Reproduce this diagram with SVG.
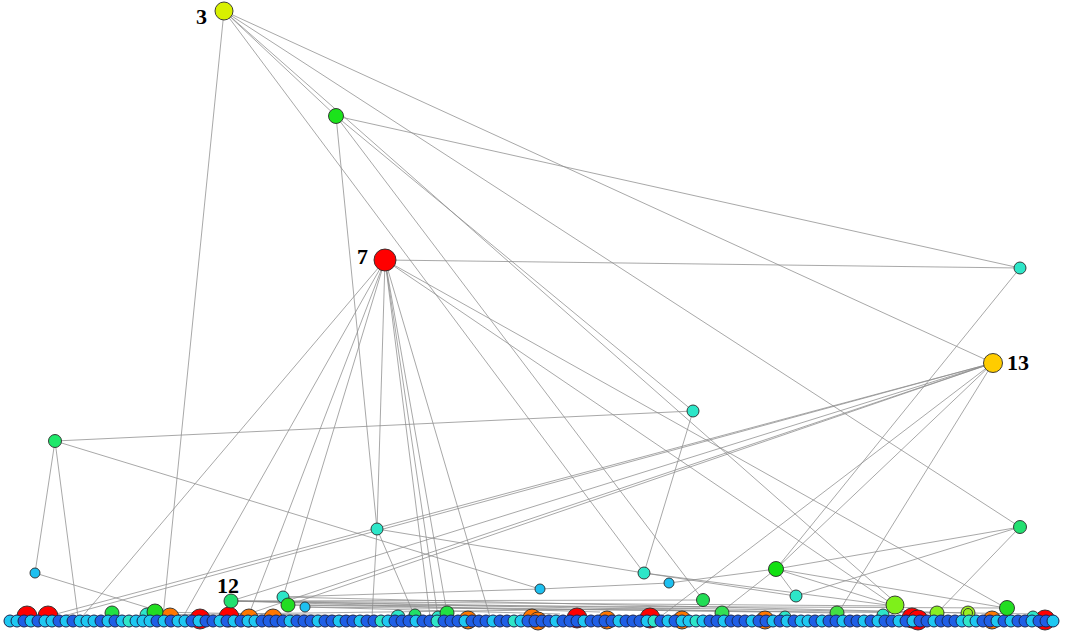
<svg xmlns="http://www.w3.org/2000/svg" width="1069" height="637" viewBox="0 0 1069 637">
<style>
.e{stroke:#8c8c8c;stroke-width:0.9;fill:none;stroke-opacity:0.85}
.n{stroke:#2a2a2a;stroke-width:0.9}
.r{stroke:#1a2550;stroke-width:1}
.b{fill:#1f5fe6}.c{fill:#1ec8f2}.a{fill:#2ee6c8}
.lbl{font-family:"Liberation Serif",serif;font-weight:bold;font-size:22px;fill:#000}
</style>
<rect width="1069" height="637" fill="#fff"/>
<g id="connectors">
<path class="e" d="M224,11L163,617M224,11L644,573M224,11L993,363M224,11L1020,527M224,11L912,617M224,11L336,116"/>
<path class="e" d="M336,116L1020,268M336,116L377,529M336,116L693,411M336,116L703,600"/>
<path class="e" d="M385,260L1020,268M385,260L82,617M385,260L183,617M385,260L248,617M385,260L283,597M385,260L377,529M385,260L430,617M385,260L438,617M385,260L447,613M385,260L490,617M385,260L1006,608M385,260L895,606"/>
<path class="e" d="M993,363L45,617M993,363L60,617M993,363L231,601M993,363L248,614M993,363L288,605M993,363L776,569M993,363L838,613M993,363L660,617"/>
<path class="e" d="M1020,268L776,569M1020,527L776,569M1020,527L796,596M1020,527L937,613"/>
<path class="e" d="M55,441L693,411M55,441L540,589M55,441L35,573M55,441L78,617M35,573L165,613"/>
<path class="e" d="M377,529L644,573M377,529L415,617M377,529L372,617M693,411L644,573M644,573L796,596M644,573L895,606"/>
<path class="e" d="M669,583L540,589M669,583L776,569M776,569L796,596M776,569L895,606M776,569L1006,608M776,569L720,613"/>
<path class="e" d="M231,601L703,600M231,601L895,606M231,601L838,613M288,605L1006,608M305,607L937,613M155,612L468,618M283,597L540,589"/>
<path class="e" d="M231,601L600,612M288,605L760,612M283,597L968,613M231,601L1033,614M147,615L700,608M305,607L560,614"/>
</g>
<g id="bighubs-row">
<circle class="n" cx="27" cy="616" r="10" fill="#ff0000"/>
<circle class="n" cx="48" cy="616" r="10" fill="#ff0000"/>
<circle class="n" cx="170" cy="617" r="9" fill="#ff7700"/>
<circle class="n" cx="200" cy="619" r="10" fill="#ff0000"/>
<circle class="n" cx="229" cy="617" r="10" fill="#ff0000"/>
<circle class="n" cx="249" cy="618" r="9" fill="#ff7700"/>
<circle class="n" cx="273" cy="618" r="9" fill="#ff7700"/>
<circle class="n" cx="468" cy="620" r="9" fill="#ff7700"/>
<circle class="n" cx="532" cy="618" r="9" fill="#ff7700"/>
<circle class="n" cx="538" cy="621" r="9" fill="#ff7700"/>
<circle class="n" cx="577" cy="618" r="10" fill="#ff0000"/>
<circle class="n" cx="607" cy="620" r="9" fill="#ff7700"/>
<circle class="n" cx="650" cy="618" r="10" fill="#ff0000"/>
<circle class="n" cx="682" cy="620" r="9" fill="#ff7700"/>
<circle class="n" cx="765" cy="620" r="9" fill="#ff7700"/>
<circle class="n" cx="912" cy="618" r="10" fill="#ff0000"/>
<circle class="n" cx="918" cy="620" r="10" fill="#ff0000"/>
<circle class="n" cx="992" cy="620" r="9" fill="#ff7700"/>
<circle class="n" cx="1045" cy="620" r="10" fill="#ff0000"/>
<circle class="n" cx="112" cy="613" r="7" fill="#22e044"/>
<circle class="n" cx="147" cy="615" r="7" fill="#2ee6c8"/>
<circle class="n" cx="155" cy="612" r="8" fill="#22dd22"/>
<circle class="n" cx="398" cy="617" r="7" fill="#2ee6c8"/>
<circle class="n" cx="415" cy="615" r="6" fill="#22e066"/>
<circle class="n" cx="438" cy="617" r="6" fill="#2ee6c8"/>
<circle class="n" cx="447" cy="613" r="7" fill="#22e044"/>
<circle class="n" cx="722" cy="613" r="7" fill="#33e055"/>
<circle class="n" cx="785" cy="617" r="6" fill="#2ee6c8"/>
<circle class="n" cx="837" cy="613" r="7" fill="#44e044"/>
<circle class="n" cx="883" cy="615" r="6" fill="#2ee6c8"/>
<circle class="n" cx="937" cy="613" r="7" fill="#88ee22"/>
<circle class="n" cx="968" cy="613" r="7" fill="#99ee22"/>
<circle class="n" cx="968" cy="613" r="4.5" fill="none"/>
<circle class="n" cx="1033" cy="617" r="6" fill="#2ee6c8"/>
</g>
<g id="row">
<circle class="r c" cx="10" cy="621" r="6"/><circle class="r c" cx="17" cy="621" r="6"/><circle class="r b" cx="24" cy="621" r="6"/><circle class="r c" cx="31" cy="621" r="6"/><circle class="r b" cx="38" cy="621" r="6"/><circle class="r c" cx="45" cy="621" r="6"/><circle class="r c" cx="52" cy="621" r="6"/><circle class="r b" cx="59" cy="621" r="6"/><circle class="r c" cx="66" cy="621" r="6"/><circle class="r b" cx="73" cy="621" r="6"/>
<circle class="r c" cx="80" cy="621" r="6"/><circle class="r c" cx="87" cy="621" r="6"/><circle class="r c" cx="94" cy="621" r="6"/><circle class="r b" cx="101" cy="621" r="6"/><circle class="r c" cx="108" cy="621" r="6"/><circle class="r b" cx="115" cy="621" r="6"/><circle class="r c" cx="122" cy="621" r="6"/><circle class="r a" cx="129" cy="621" r="6"/><circle class="r c" cx="136" cy="621" r="6"/><circle class="r c" cx="143" cy="621" r="6"/>
<circle class="r c" cx="150" cy="621" r="6"/><circle class="r b" cx="157" cy="621" r="6"/><circle class="r c" cx="164" cy="621" r="6"/><circle class="r b" cx="171" cy="621" r="6"/><circle class="r c" cx="178" cy="621" r="6"/><circle class="r c" cx="185" cy="621" r="6"/><circle class="r b" cx="192" cy="621" r="6"/><circle class="r c" cx="199" cy="621" r="6"/><circle class="r b" cx="206" cy="621" r="6"/><circle class="r b" cx="213" cy="621" r="6"/>
<circle class="r c" cx="220" cy="621" r="6"/><circle class="r b" cx="227" cy="621" r="6"/><circle class="r c" cx="234" cy="621" r="6"/><circle class="r b" cx="241" cy="621" r="6"/><circle class="r c" cx="248" cy="621" r="6"/><circle class="r c" cx="255" cy="621" r="6"/><circle class="r b" cx="262" cy="621" r="6"/><circle class="r b" cx="269" cy="621" r="6"/><circle class="r b" cx="276" cy="621" r="6"/><circle class="r b" cx="283" cy="621" r="6"/>
<circle class="r c" cx="290" cy="621" r="6"/><circle class="r b" cx="297" cy="621" r="6"/><circle class="r b" cx="304" cy="621" r="6"/><circle class="r b" cx="311" cy="621" r="6"/><circle class="r c" cx="318" cy="621" r="6"/><circle class="r b" cx="325" cy="621" r="6"/><circle class="r b" cx="332" cy="621" r="6"/><circle class="r c" cx="339" cy="621" r="6"/><circle class="r b" cx="346" cy="621" r="6"/><circle class="r b" cx="353" cy="621" r="6"/>
<circle class="r c" cx="360" cy="621" r="6"/><circle class="r b" cx="367" cy="621" r="6"/><circle class="r b" cx="374" cy="621" r="6"/><circle class="r a" cx="381" cy="621" r="6"/><circle class="r c" cx="388" cy="621" r="6"/><circle class="r b" cx="395" cy="621" r="6"/><circle class="r b" cx="402" cy="621" r="6"/><circle class="r b" cx="409" cy="621" r="6"/><circle class="r c" cx="416" cy="621" r="6"/><circle class="r b" cx="423" cy="621" r="6"/>
<circle class="r b" cx="430" cy="621" r="6"/><circle class="r a" cx="437" cy="621" r="6"/><circle class="r b" cx="444" cy="621" r="6"/><circle class="r b" cx="451" cy="621" r="6"/><circle class="r b" cx="458" cy="621" r="6"/><circle class="r c" cx="465" cy="621" r="6"/><circle class="r b" cx="472" cy="621" r="6"/><circle class="r b" cx="479" cy="621" r="6"/><circle class="r b" cx="486" cy="621" r="6"/><circle class="r c" cx="493" cy="621" r="6"/>
<circle class="r b" cx="500" cy="621" r="6"/><circle class="r b" cx="507" cy="621" r="6"/><circle class="r a" cx="514" cy="621" r="6"/><circle class="r c" cx="521" cy="621" r="6"/><circle class="r b" cx="528" cy="621" r="6"/><circle class="r b" cx="535" cy="621" r="6"/><circle class="r b" cx="542" cy="621" r="6"/><circle class="r b" cx="549" cy="621" r="6"/><circle class="r c" cx="556" cy="621" r="6"/><circle class="r b" cx="563" cy="621" r="6"/>
<circle class="r b" cx="570" cy="621" r="6"/><circle class="r b" cx="577" cy="621" r="6"/><circle class="r c" cx="584" cy="621" r="6"/><circle class="r b" cx="591" cy="621" r="6"/><circle class="r b" cx="598" cy="621" r="6"/><circle class="r b" cx="605" cy="621" r="6"/><circle class="r b" cx="612" cy="621" r="6"/><circle class="r c" cx="619" cy="621" r="6"/><circle class="r b" cx="626" cy="621" r="6"/><circle class="r b" cx="633" cy="621" r="6"/>
<circle class="r b" cx="640" cy="621" r="6"/><circle class="r c" cx="647" cy="621" r="6"/><circle class="r a" cx="654" cy="621" r="6"/><circle class="r b" cx="661" cy="621" r="6"/><circle class="r c" cx="668" cy="621" r="6"/><circle class="r b" cx="675" cy="621" r="6"/><circle class="r c" cx="682" cy="621" r="6"/><circle class="r c" cx="689" cy="621" r="6"/><circle class="r a" cx="696" cy="621" r="6"/><circle class="r c" cx="703" cy="621" r="6"/>
<circle class="r b" cx="710" cy="621" r="6"/><circle class="r b" cx="717" cy="621" r="6"/><circle class="r c" cx="724" cy="621" r="6"/><circle class="r b" cx="731" cy="621" r="6"/><circle class="r b" cx="738" cy="621" r="6"/><circle class="r b" cx="745" cy="621" r="6"/><circle class="r c" cx="752" cy="621" r="6"/><circle class="r b" cx="759" cy="621" r="6"/><circle class="r b" cx="766" cy="621" r="6"/><circle class="r c" cx="773" cy="621" r="6"/>
<circle class="r b" cx="780" cy="621" r="6"/><circle class="r c" cx="787" cy="621" r="6"/><circle class="r b" cx="794" cy="621" r="6"/><circle class="r c" cx="801" cy="621" r="6"/><circle class="r c" cx="808" cy="621" r="6"/><circle class="r b" cx="815" cy="621" r="6"/><circle class="r c" cx="822" cy="621" r="6"/><circle class="r b" cx="829" cy="621" r="6"/><circle class="r b" cx="836" cy="621" r="6"/><circle class="r c" cx="843" cy="621" r="6"/>
<circle class="r b" cx="850" cy="621" r="6"/><circle class="r b" cx="857" cy="621" r="6"/><circle class="r c" cx="864" cy="621" r="6"/><circle class="r b" cx="871" cy="621" r="6"/><circle class="r c" cx="878" cy="621" r="6"/><circle class="r b" cx="885" cy="621" r="6"/><circle class="r b" cx="892" cy="621" r="6"/><circle class="r c" cx="899" cy="621" r="6"/><circle class="r b" cx="906" cy="621" r="6"/><circle class="r c" cx="913" cy="621" r="6"/>
<circle class="r b" cx="920" cy="621" r="6"/><circle class="r b" cx="927" cy="621" r="6"/><circle class="r c" cx="934" cy="621" r="6"/><circle class="r b" cx="941" cy="621" r="6"/><circle class="r b" cx="948" cy="621" r="6"/><circle class="r b" cx="955" cy="621" r="6"/><circle class="r c" cx="962" cy="621" r="6"/><circle class="r a" cx="969" cy="621" r="6"/><circle class="r c" cx="976" cy="621" r="6"/><circle class="r b" cx="983" cy="621" r="6"/>
<circle class="r b" cx="990" cy="621" r="6"/><circle class="r c" cx="997" cy="621" r="6"/><circle class="r b" cx="1004" cy="621" r="6"/><circle class="r c" cx="1011" cy="621" r="6"/><circle class="r b" cx="1018" cy="621" r="6"/><circle class="r b" cx="1025" cy="621" r="6"/><circle class="r c" cx="1032" cy="621" r="6"/><circle class="r b" cx="1039" cy="621" r="6"/><circle class="r b" cx="1046" cy="621" r="6"/><circle class="r c" cx="1053" cy="621" r="6"/>
</g>
<g id="n3"><circle class="n" cx="224" cy="11" r="9" fill="#d8f000"/><text class="lbl" x="196" y="24">3</text></g>
<g id="nG"><circle class="n" cx="336" cy="116" r="7.5" fill="#1be31b"/></g>
<g id="n7"><circle class="n" cx="385" cy="260" r="11" fill="#ff0000"/><text class="lbl" x="357" y="264">7</text></g>
<g id="nA"><circle class="n" cx="1020" cy="268" r="6" fill="#2de6c8"/></g>
<g id="n13"><circle class="n" cx="993" cy="363" r="9.5" fill="#ffcc00"/><text class="lbl" x="1007" y="370">13</text></g>
<g id="nB"><circle class="n" cx="693" cy="411" r="6" fill="#2de6c8"/></g>
<g id="nC"><circle class="n" cx="55" cy="441" r="6.5" fill="#1ee86a"/></g>
<g id="nD"><circle class="n" cx="377" cy="529" r="6" fill="#2de6c8"/></g>
<g id="nE"><circle class="n" cx="1020" cy="527" r="6.5" fill="#22e070"/></g>
<g id="nF"><circle class="n" cx="35" cy="573" r="5" fill="#1ec0f0"/></g>
<g id="nH"><circle class="n" cx="540" cy="589" r="5" fill="#1ec0f0"/></g>
<g id="nI"><circle class="n" cx="644" cy="573" r="6" fill="#2de6c8"/></g>
<g id="nJ"><circle class="n" cx="669" cy="583" r="5" fill="#1ec0f0"/></g>
<g id="nK"><circle class="n" cx="776" cy="569" r="7.5" fill="#11e011"/></g>
<g id="nL"><circle class="n" cx="796" cy="596" r="6" fill="#2de6c8"/></g>
<g id="nM"><circle class="n" cx="703" cy="600" r="6.5" fill="#22dd55"/></g>
<g id="n12"><circle class="n" cx="231" cy="601" r="7" fill="#22e070"/><text class="lbl" x="217" y="593">12</text></g>
<g id="nN"><circle class="n" cx="283" cy="597" r="6" fill="#2de6c8"/></g>
<g id="nO"><circle class="n" cx="288" cy="605" r="7" fill="#22dd22"/></g>
<g id="nP"><circle class="n" cx="305" cy="607" r="5" fill="#1ec0f0"/></g>
<g id="nQ"><circle class="n" cx="895" cy="605" r="9" fill="#7ef01a"/></g>
<g id="nR"><circle class="n" cx="1007" cy="608" r="7.5" fill="#22dd22"/></g>
</svg>
